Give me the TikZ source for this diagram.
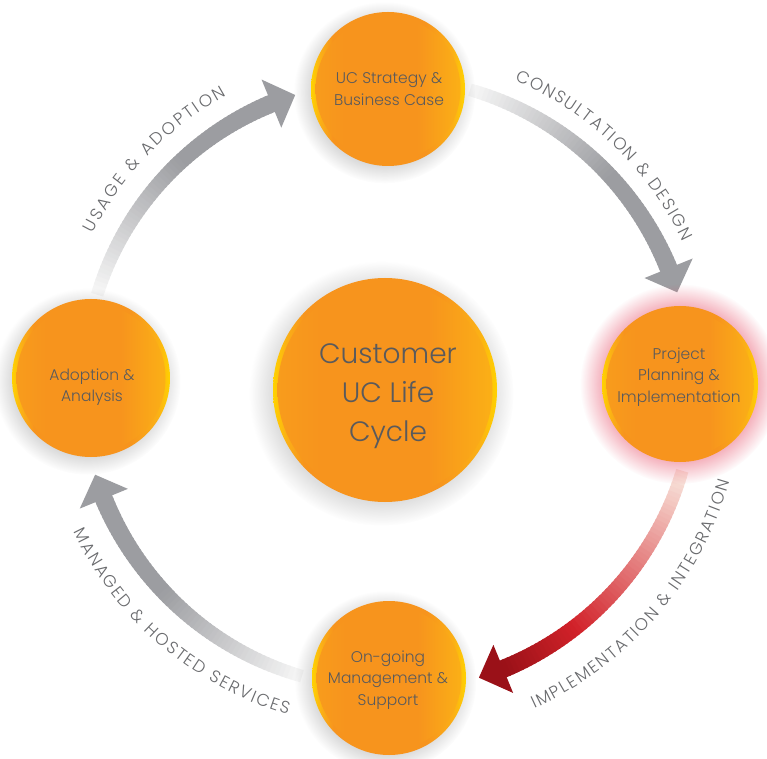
\documentclass[tikz,border=0pt]{standalone}
\usepackage{fontspec}
\IfFontExistsTF{Poppins Light}{\setmainfont{Poppins Light}}{\setmainfont{Poppins}}
\usetikzlibrary{shadows,fadings,decorations.text}
\definecolor{orbY}{HTML}{FFD200}
\definecolor{orbO}{HTML}{F7941D}
\definecolor{orbL}{HTML}{FBB016}
\definecolor{orbM}{HTML}{F89C1C}
\definecolor{txt}{HTML}{5A5A5C}
\definecolor{lbl}{HTML}{6A6B6E}
\definecolor{arG}{HTML}{9C9DA1}
\definecolor{arW}{HTML}{F6F6F6}
\definecolor{arP}{HTML}{F9E6DD}
\definecolor{arR}{HTML}{D2222A}
\definecolor{arD}{HTML}{9A1118}
\definecolor{glowc}{HTML}{E8506A}
\pgfdeclarehorizontalshading{orbouter}{100bp}{color(0bp)=(orbY); color(25bp)=(orbY); color(28bp)=(orbL); color(32bp)=(orbO); color(62bp)=(orbO); color(71bp)=(orbL); color(75bp)=(orbY); color(100bp)=(orbY)}
\pgfdeclarehorizontalshading{orbinner}{100bp}{color(0bp)=(orbM); color(25bp)=(orbM); color(35bp)=(orbO); color(60bp)=(orbO); color(75bp)=(orbL); color(100bp)=(orbL)}
\pgfdeclareradialshading{softedgeshade}{\pgfpointorigin}{color(0bp)=(pgftransparent!0); color(16bp)=(pgftransparent!0); color(25bp)=(pgftransparent!100); color(50bp)=(pgftransparent!100)}
\pgfdeclarefading{softedge}{\pgfuseshading{softedgeshade}}
\newcommand\labfont{\fontsize{17}{17}\selectfont}
\newcommand\gradarrow[7]{%
  \pgfmathsetmacro\myBase{#2+4.8}%
  \foreach \k in {0,...,59}{%
    \pgfmathsetmacro\myA{#1+(\myBase-#1)*\k/60}%
    \pgfmathsetmacro\myB{#1+(\myBase-#1)*(\k+1.5)/60}%
    \pgfmathsetmacro\myT{\k/59}%
    \pgfmathtruncatemacro\myPa{min(100,100*\myT/#7)}%
    \pgfmathtruncatemacro\myPb{max(0,100*(\myT-#7)/(1-#7+0.0001))}%
    \pgfmathsetmacro\myW{12.5+5.5*\myT}%
    \colorlet{tmpc}{#5!\myPa!#4}%
    \colorlet{segc}{#6!\myPb!tmpc}%
    \draw[line width=\myW pt, draw=segc] (\myA:#3) arc[start angle=\myA, end angle=\myB, radius=#3];
  }%
  \fill[#6] (\myBase:#3-26) -- (#2:#3) -- (\myBase:#3+26) -- cycle;
}
\newcommand\orb[7]{%
  \node[orbnode, minimum size=#3*2pt, #4] (#1) at (#2) {};
  \shade[shading=orbinner] (#1.center) circle[radius=#3-4.5];
  \node[orbtext, font=#5] (#1-text) at (#6) {#7};
}
\tikzset{
  orbnode/.style={circle, inner sep=0pt, shading=orbouter, draw=none},
  orbtext/.style={align=center, text=txt, inner sep=0pt},
  dropsh/.style={general shadow={shadow scale=1.18, shadow xshift=-3pt, shadow yshift=-3pt, fill=black, opacity=0.26, path fading=softedge}},
  glowsh/.style={general shadow={shadow scale=1.28, fill=glowc, opacity=0.7, path fading=softedge}},
  lab/.style={decorate, decoration={text along path, text align={fit to path}, text color=lbl, text={|\labfont|#1}}}
}
\begin{document}
\begin{tikzpicture}[x=1pt,y=1pt]
\fill[white, use as bounding box] (0,0) rectangle (767,758);
\begin{scope}[shift={(386,375)}]
  \gradarrow{163}{107.5}{302}{arW}{arG}{arG}{0.6}
  \gradarrow{74}{17.3}{305}{arW}{arG}{arG}{0.6}
  \gradarrow{-16.5}{-72.5}{309}{arP}{arR}{arD}{0.7}
  \gradarrow{254}{197.5}{305}{arW}{arG}{arG}{0.6}
  \path[lab={USAGE {\&} ADOPTION}] (153:329) arc[start angle=153, end angle=119, radius=329];
  \path[lab={CONSULTATION {\&} DESIGN}] (67:329) arc[start angle=67, end angle=25.5, radius=329];
  \path[lab={IMPLEMENTATION {\&} INTEGRATION}] (-65.5:358) arc[start angle=-65.5, end angle=-16, radius=358];
  \path[lab={MANAGED {\&} HOSTED SERVICES}] (205.5:346) arc[start angle=205.5, end angle=253.5, radius=346];
\end{scope}
\orb{strategy}{388,669}{77}{dropsh}{\fontsize{15.5}{21.5}\selectfont}{389,669}{UC Strategy \&\\Business Case}
\orb{project}{680,374}{78}{glowsh}{\fontsize{15.5}{21.5}\selectfont}{679,381}{Project\\Planning \&\\Implementation}
\orb{ongoing}{389,80}{77}{dropsh}{\fontsize{15.5}{21.5}\selectfont}{388,78}{On-going\\Management \&\\Support}
\orb{adoption}{91,380}{79}{dropsh}{\fontsize{15.5}{21.5}\selectfont}{92,371}{Adoption \&\\Analysis}
\orb{center}{385,368}{112}{dropsh}{\fontsize{28}{39}\selectfont}{388,362}{Customer\\UC Life\\Cycle}
\end{tikzpicture}
\end{document}
